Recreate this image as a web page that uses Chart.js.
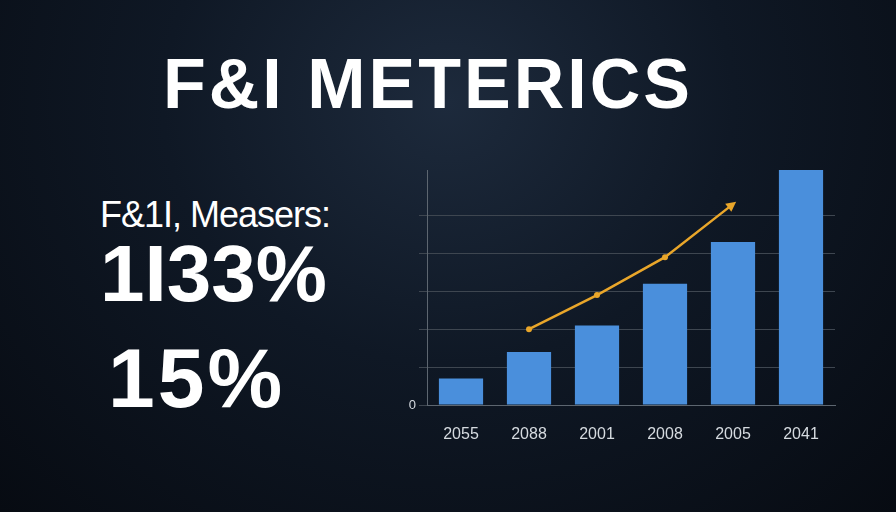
<!DOCTYPE html>
<html>
<head>
<meta charset="utf-8">
<script src="https://cdn.jsdelivr.net/npm/chart.js@4/dist/chart.umd.min.js"></script>
<style>
  html, body { margin: 0; padding: 0; }
  body {
    width: 896px; height: 512px; overflow: hidden; position: relative;
    background: radial-gradient(ellipse at 50% 20%, #1d2a3c 0%, #0f1825 45%, #070b12 100%);
    font-family: "Liberation Sans", Arial, sans-serif; color: #fff;
  }
  #title { position: absolute; left: 0; width: 856px; top: 44px; text-align: center;
    font-family: "Liberation Sans", sans-serif; font-weight: bold; font-size: 70px; letter-spacing: 3px; }
  .txt { position: absolute; left: 100px; font-family: "Liberation Sans Narrow", sans-serif; }
  #sub { top: 194px; font-size: 36px; font-family: "Liberation Sans", sans-serif; letter-spacing: -1px; }
  #big1 { top: 228px; font-size: 80px; font-weight: bold; }
  #big2 { top: 330px; font-size: 84px; font-weight: bold; left: 108px; letter-spacing: 3px; }
  canvas { position: absolute; left: 0; top: 0; }
</style>
</head>
<body>
<div id="title">F&amp;I METERICS</div>
<div class="txt" id="sub">F&amp;1I, Measers:</div>
<div class="txt" id="big1">1I33%</div>
<div class="txt" id="big2">15%</div>
<canvas id="chart" width="896" height="512"></canvas>
<script>
// data
const years = ['2055', '2088', '2001', '2008', '2005', '2041'];
const barValues = [0.7, 1.4, 2.1, 3.2, 4.3, 6.2];
const trendValues = [null, 2.0, 2.9, 3.9, 5.3, null];

// arrow head on the last point of the trend line
const arrowPlugin = {
  id: 'arrow',
  afterDatasetsDraw(chart) {
    const pts = chart.getDatasetMeta(1).data.filter((p, i) => trendValues[i] != null);
    const a = pts[pts.length - 2], b = pts[pts.length - 1];
    const ang = Math.atan2(b.y - a.y, b.x - a.x);
    const ctx = chart.ctx;
    ctx.save();
    ctx.fillStyle = '#e9a62a';
    ctx.translate(b.x, b.y);
    ctx.rotate(ang);
    ctx.beginPath();
    ctx.moveTo(4, 0); ctx.lineTo(-6, -5); ctx.lineTo(-6, 5);
    ctx.closePath(); ctx.fill();
    ctx.restore();
  }
};

new Chart(document.getElementById('chart'), {
  data: {
    labels: years,
    datasets: [
      {
        type: 'bar',
        data: barValues,
        backgroundColor: '#4a8fdc',
        barPercentage: 0.65,
        categoryPercentage: 1,
        order: 2
      },
      {
        type: 'line',
        data: trendValues,
        borderColor: '#e9a62a',
        borderWidth: 2.5,
        pointRadius: [0, 3, 3, 3, 0, 0],
        pointBackgroundColor: '#e9a62a',
        pointBorderWidth: 0,
        order: 1
      }
    ]
  },
  options: {
    responsive: false,
    animation: false,
    layout: { padding: { left: 397, right: 61, top: 170, bottom: 67 } },
    plugins: { legend: { display: false }, tooltip: { enabled: false } },
    scales: {
      x: {
        grid: { display: false },
        border: { color: '#5d6670' },
        ticks: { color: '#d6dbe0', font: { size: 16 }, padding: 12 },
        afterFit(s) { s.height = 40; }
      },
      y: {
        min: 0, max: 6.2,
        ticks: { stepSize: 1, color: '#d6dbe0', font: { size: 13 },
          callback: v => v === 0 ? '0' : '' },
        grid: { color: c => c.tick && c.tick.value > 6 ? 'rgba(0,0,0,0)' : '#3e4650', lineWidth: 1 },
        border: { color: '#5d6670' },
        afterFit(s) { s.width = 30; }
      }
    }
  },
  plugins: [arrowPlugin]
});
</script>
</body>
</html>
